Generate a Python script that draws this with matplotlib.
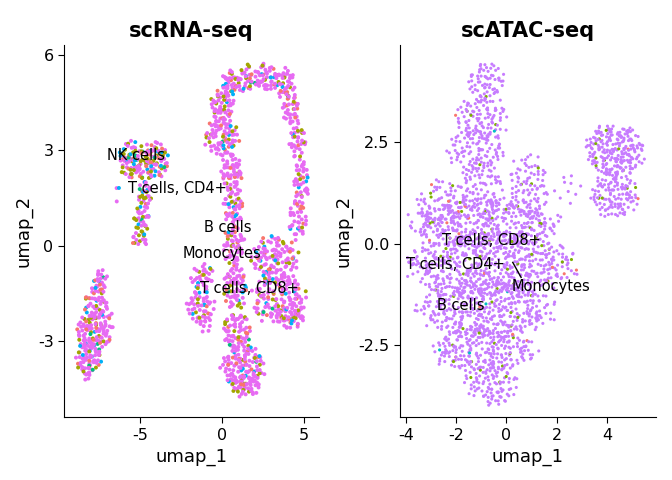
import numpy as np
import matplotlib
matplotlib.use("Agg")
import matplotlib.pyplot as plt

# cell-type labels and where they sit in each embedding
rna_labels = ["NK cells", "T cells, CD4+", "B cells", "Monocytes", "T cells, CD8+"]
rna_lab_x = [-5.27, -2.74, 0.37, -0.03, 1.65]
rna_lab_y = [2.83, 1.79, 0.57, -0.25, -1.35]

atac_labels = ["T cells, CD8+", "T cells, CD4+", "Monocytes", "B cells"]
atac_lab_x = [-0.6, -2.02, 1.79, -1.8]
atac_lab_y = [0.07, -0.52, -1.06, -1.53]

# scRNA-seq point clouds: centre, half-size, cell count, colour mix
rna_cx = [-7.4, -7.7, -7.9, -8.1, -8.3, -7.0,
          -5.6, -4.0, -4.8, -4.7, -4.9, -5.0, -6.4,
          0.5, 0.0, 0.0, 0.6, 0.7, 0.7, 0.8, 0.9,
          1.5, 2.7, 3.8, 4.2, 4.6, 4.8, 4.6,
          3.2, 3.5, 4.3, 1.3, 1.4, -1.2, -1.3, -1.0]
rna_cy = [-1.1, -1.8, -2.7, -3.5, -4.0, -2.5,
          2.7, 2.7, 2.6, 1.6, 0.8, 0.2, 1.6,
          5.1, 4.4, 3.4, 2.3, 1.2, 0.0, -1.3, -2.7,
          5.25, 5.3, 5.1, 4.3, 3.3, 2.0, 0.8,
          -0.4, -1.7, -2.2, -3.8, -4.4, -1.0, -1.9, -2.5]
rna_rx = [0.4, 0.7, 0.9, 0.75, 0.3, 0.35,
          0.7, 0.75, 0.6, 0.45, 0.5, 0.6, 0.2,
          0.55, 0.7, 1.0, 0.65, 0.6, 0.65, 0.7, 0.85,
          0.6, 0.7, 0.6, 0.5, 0.5, 0.5, 0.55,
          1.4, 1.6, 0.8, 1.3, 0.9, 0.7, 0.8, 0.4]
rna_ry = [0.35, 0.5, 0.6, 0.55, 0.25, 0.6,
          0.6, 0.6, 0.55, 0.45, 0.45, 0.25, 0.3,
          0.4, 0.5, 0.6, 0.6, 0.6, 0.6, 0.7, 0.6,
          0.45, 0.45, 0.45, 0.5, 0.6, 0.7, 0.6,
          0.7, 0.8, 0.45, 0.65, 0.35, 0.45, 0.6, 0.25]
rna_n = [22, 50, 90, 65, 8, 22,
         60, 65, 35, 32, 32, 15, 3,
         38, 55, 80, 55, 50, 55, 65, 70,
         35, 45, 40, 36, 36, 42, 36,
         110, 140, 35, 115, 45, 34, 56, 8]
rna_mix = [0] * 6 + [1] * 7 + [0] * 23

rna_colors = ["#F8766D", "#A3A500", "#00BF7D", "#00B0F6", "#E76BF3"]
rna_shares = [[0.08, 0.10, 0.01, 0.05, 0.76],
              [0.08, 0.20, 0.05, 0.12, 0.55]]

# scATAC-seq point clouds
atac_cx = [-0.8, -1.0, -1.2, 0.9, -2.6, -1.0,
           -0.6, -0.85, -0.8, -0.9, -0.6, -0.4,
           4.3, 4.3, 2.5]
atac_cy = [4.0, 3.1, 2.3, 1.4, 1.0, 1.3,
           -0.5, 0.5, -1.6, -2.6, -3.4, -3.8,
           2.3, 1.2, 1.3]
atac_rx = [0.7, 1.0, 1.1, 0.8, 0.95, 0.9,
           3.25, 2.9, 2.6, 2.0, 1.1, 0.5,
           1.1, 0.9, 0.6]
atac_ry = [0.45, 0.55, 0.5, 0.8, 0.6, 0.8,
           0.8, 0.6, 0.7, 0.55, 0.45, 0.2,
           0.65, 0.55, 0.4]
atac_n = [65, 105, 90, 90, 75, 100,
          580, 380, 420, 250, 85, 14,
          230, 125, 10]

atac_colors = ["#F8766D", "#7CAE00", "#00BFC4", "#C77CFF"]
atac_shares = [0.006, 0.03, 0.003, 0.961]


def hash01(k):
    # integer bit-mixing hash of an index, mapped to [0, 1)
    x = np.asarray(k, dtype=np.uint64) & np.uint64(0xFFFFFFFF)
    m = np.uint64(0x45D9F3B)
    mask = np.uint64(0xFFFFFFFF)
    x = (((x >> np.uint64(16)) ^ x) * m) & mask
    x = (((x >> np.uint64(16)) ^ x) * m) & mask
    x = (x >> np.uint64(16)) ^ x
    return x.astype(float) / 4294967296.0


def fill_blob(cx, cy, rx, ry, n, start):
    # R2 low-discrepancy layout mapped into an ellipse, nudged by an index hash
    i = np.arange(n) + start
    u = (0.5 + i * 0.7548776662) % 1.0
    v = (0.5 + i * 0.5698402910) % 1.0
    r = np.sqrt(u)
    th = 2 * np.pi * v
    x = cx + rx * r * np.cos(th) + rx * 0.25 * (hash01(i) - 0.5)
    y = cy + ry * r * np.sin(th) + ry * 0.25 * (hash01(i + 50000) - 0.5)
    return x, y


def build(cxs, cys, rxs, rys, ns, pick):
    xs, ys, cs = [], [], []
    k = 0
    for b in range(len(cxs)):
        x, y = fill_blob(cxs[b], cys[b], rxs[b], rys[b], ns[b], k)
        us = hash01(np.arange(ns[b]) + k + 200000)
        cs += [pick(b, u) for u in us]
        xs.append(x)
        ys.append(y)
        k += ns[b]
    xs = np.concatenate(xs)
    ys = np.concatenate(ys)
    cs = np.array(cs)
    order = np.argsort(hash01(np.arange(len(xs)) + 400000))
    return xs[order], ys[order], cs[order]


def pick_from(shares, colors, u):
    acc = 0
    for s, c in zip(shares, colors):
        acc += s
        if u < acc:
            return c
    return colors[-1]


rx_, ry_, rc_ = build(rna_cx, rna_cy, rna_rx, rna_ry, rna_n,
                      lambda b, u: pick_from(rna_shares[rna_mix[b]], rna_colors, u))
ax_, ay_, ac_ = build(atac_cx, atac_cy, atac_rx, atac_ry, atac_n,
                      lambda b, u: pick_from(atac_shares, atac_colors, u))

fig = plt.figure(figsize=(6.72, 4.8), dpi=100)
ax1 = fig.add_axes([0.0952, 0.131, 0.3795, 0.775])
ax2 = fig.add_axes([0.595, 0.131, 0.381, 0.775])

ax1.scatter(rx_, ry_, s=8, c=rc_, linewidths=0)
ax2.scatter(ax_, ay_, s=5, c=ac_, linewidths=0)

for t, x, y in zip(rna_labels, rna_lab_x, rna_lab_y):
    ax1.text(x, y, t, ha="center", va="center", fontsize=10.5)
for t, x, y in zip(atac_labels, atac_lab_x, atac_lab_y):
    ax2.text(x, y, t, ha="center", va="center", fontsize=10.5)
# repel segment for the Monocytes label
ax2.plot([0.25, 0.58], [-0.46, -0.83], color="black", lw=1)

ax1.set_xlim(-9.63, 5.9)
ax1.set_ylim(-5.39, 6.3)
ax1.set_xticks([-5, 0, 5])
ax1.set_xticklabels(["-5", "0", "5"])
ax1.set_yticks([-3, 0, 3, 6])
ax1.set_yticklabels(["-3", "0", "3", "6"])
ax1.set_title("scRNA-seq", fontsize=15, fontweight="bold")

ax2.set_xlim(-4.24, 5.94)
ax2.set_ylim(-4.27, 4.89)
ax2.set_xticks([-4, -2, 0, 2, 4])
ax2.set_xticklabels(["-4", "-2", "0", "2", "4"])
ax2.set_yticks([-2.5, 0.0, 2.5])
ax2.set_yticklabels(["-2.5", "0.0", "2.5"])
ax2.set_title("scATAC-seq", fontsize=15, fontweight="bold")

for a in [ax1, ax2]:
    a.set_xlabel("umap_1", fontsize=13)
    a.set_ylabel("umap_2", fontsize=13)
    a.spines["top"].set_visible(False)
    a.spines["right"].set_visible(False)
    a.tick_params(labelsize=11.5, length=4)

fig.savefig("out.png", dpi=100)
